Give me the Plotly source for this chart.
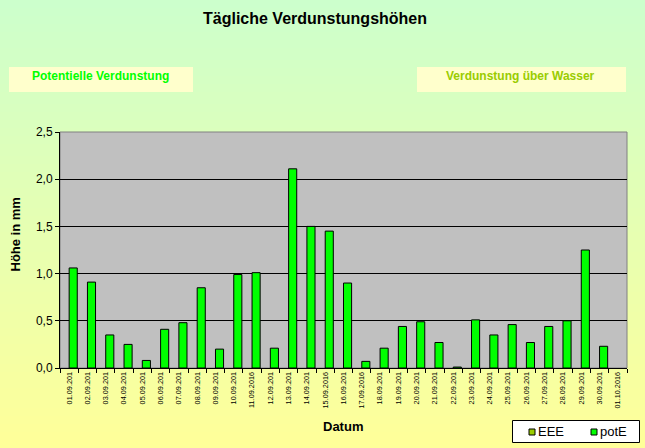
import plotly.graph_objects as go

# ---- data ----
dates = ["01.09.201", "02.09.201", "03.09.201", "04.09.201", "05.09.201", "06.09.201",
         "07.09.201", "08.09.201", "09.09.201", "10.09.201", "11.09.2016", "12.09.201",
         "13.09.201", "14.09.201", "15.09.2016", "16.09.201", "17.09.2016", "18.09.201",
         "19.09.201", "20.09.201", "21.09.201", "22.09.201", "23.09.201", "24.09.201",
         "25.09.201", "26.09.201", "27.09.201", "28.09.201", "29.09.201", "30.09.201",
         "01.10.2016"]
potE = [1.06, 0.91, 0.35, 0.25, 0.08, 0.41, 0.48, 0.85, 0.20, 0.99, 1.01, 0.21,
        2.11, 1.50, 1.45, 0.90, 0.07, 0.21, 0.44, 0.49, 0.27, 0.01, 0.51, 0.35,
        0.46, 0.27, 0.44, 0.50, 1.25, 0.23, None]
EEE = [None, None, None, None, None, None, None, None, None, None, None, None,
       None, None, None, None, None, None, None, None, None, None, None, None,
       None, None, None, None, None, None, None]
y_ticks = [0, 0.5, 1.0, 1.5, 2.0, 2.5]
series_names = ["EEE", "potE"]
series_colors = ["#99CC00", "#00FF00"]

W, H = 645, 448
L, R, T, B = 60, 627, 132, 368
FONT = "Liberation Sans, Arial, sans-serif"


def px(x):
    return (x - L) / (R - L)


def py(y):
    return (B - y) / (B - T)


fig = go.Figure()
for name, vals, col in zip(series_names, [EEE, potE], series_colors):
    fig.add_trace(go.Bar(x=dates, y=vals, name=name, showlegend=False,
                         marker=dict(color=col, line=dict(color="black", width=1))))

shapes = []
# gradient background strips
n = 112
c0 = (204, 255, 204)
c1 = (255, 255, 153)
for i in range(n):
    t = i / (n - 1)
    col = tuple(round(c0[k] + (c1[k] - c0[k]) * t) for k in range(3))
    y0 = i * H / n
    y1 = (i + 1) * H / n + 0.5
    shapes.append(dict(type="rect", xref="paper", yref="paper", x0=px(-1), x1=px(W + 1),
                       y0=py(y1), y1=py(y0), fillcolor="rgb(%d,%d,%d)" % col,
                       line=dict(width=0), layer="below"))
# plot area
shapes.append(dict(type="rect", xref="paper", yref="paper", x0=0, x1=1, y0=0, y1=1,
                   fillcolor="#C0C0C0", line=dict(color="#808080", width=1), layer="below"))
# text boxes
shapes.append(dict(type="rect", xref="paper", yref="paper", x0=px(9), x1=px(193), y0=py(92), y1=py(67),
                   fillcolor="#FFFFCC", line=dict(width=0), layer="below"))
shapes.append(dict(type="rect", xref="paper", yref="paper", x0=px(417), x1=px(626), y0=py(92), y1=py(67),
                   fillcolor="#FFFFCC", line=dict(width=0), layer="below"))
# legend box
shapes.append(dict(type="rect", xref="paper", yref="paper", x0=px(512.5), x1=px(639.5), y0=py(442.5), y1=py(420.5),
                   fillcolor="white", line=dict(color="black", width=1), layer="above"))
legend_sq_x = [529, 591]
legend_tx_x = [536, 598]
for sx, col in zip(legend_sq_x, series_colors):
    shapes.append(dict(type="rect", xref="paper", yref="paper", x0=px(sx), x1=px(sx + 6),
                       y0=py(435), y1=py(429), fillcolor=col, line=dict(color="black", width=1),
                       layer="above"))

annotations = [
    dict(text="Tägliche Verdunstungshöhen", x=px(314.5), y=py(19), xref="paper", yref="paper",
         showarrow=False, xanchor="center", yanchor="middle",
         font=dict(family=FONT, size=16, color="black", weight="bold")),
    dict(text="Potentielle Verdunstung", x=px(100.5), y=py(76), xref="paper", yref="paper",
         showarrow=False, xanchor="center", yanchor="middle",
         font=dict(family=FONT, size=12, color="#00FF00", weight="bold")),
    dict(text="Verdunstung über Wasser", x=px(520), y=py(76), xref="paper", yref="paper",
         showarrow=False, xanchor="center", yanchor="middle",
         font=dict(family=FONT, size=12, color="#99CC00", weight="bold")),
    dict(text="Höhe in mm", x=px(15), y=py(234.5), xref="paper", yref="paper", textangle=-90,
         showarrow=False, xanchor="center", yanchor="middle",
         font=dict(family=FONT, size=13, color="black", weight="bold")),
    dict(text="Datum", x=px(343), y=py(426), xref="paper", yref="paper",
         showarrow=False, xanchor="center", yanchor="middle",
         font=dict(family=FONT, size=13, color="black", weight="bold")),
]
for tx, name in zip(legend_tx_x, series_names):
    annotations.append(dict(text=name, x=px(tx), y=py(431.5), xref="paper", yref="paper",
                            showarrow=False, xanchor="left", yanchor="middle",
                            font=dict(family=FONT, size=13, color="black")))

fig.update_layout(
    width=W, height=H,
    margin=dict(l=L, r=W - R, t=T, b=H - B, pad=0, autoexpand=False),
    paper_bgcolor="#E5FFB2",
    plot_bgcolor="#C0C0C0",
    barmode="group", bargap=0.114, bargroupgap=0,
    separators=",.",
    font=dict(family=FONT, color="black"),
    shapes=shapes,
    annotations=annotations,
    showlegend=False,
)
fig.update_xaxes(type="category", showgrid=False, showline=True, linecolor="black", linewidth=1,
                 ticks="outside", tickson="boundaries", ticklen=4, tickcolor="black",
                 tickangle=-90, tickfont=dict(family=FONT, size=7.3, color="black"),
                 fixedrange=True, automargin=False)
fig.update_yaxes(range=[0, 2.5], tickvals=y_ticks, tickformat=".1f", showgrid=True,
                 gridcolor="black", gridwidth=1, showline=True, linecolor="black", linewidth=1,
                 ticks="outside", ticklen=4, tickcolor="black", zeroline=False,
                 tickfont=dict(family=FONT, size=12, color="black"), fixedrange=True,
                 automargin=False)

fig.write_html("out.html", config={"displayModeBar": False},
               post_script="document.body.style.margin='0';document.body.style.overflow='hidden';")
